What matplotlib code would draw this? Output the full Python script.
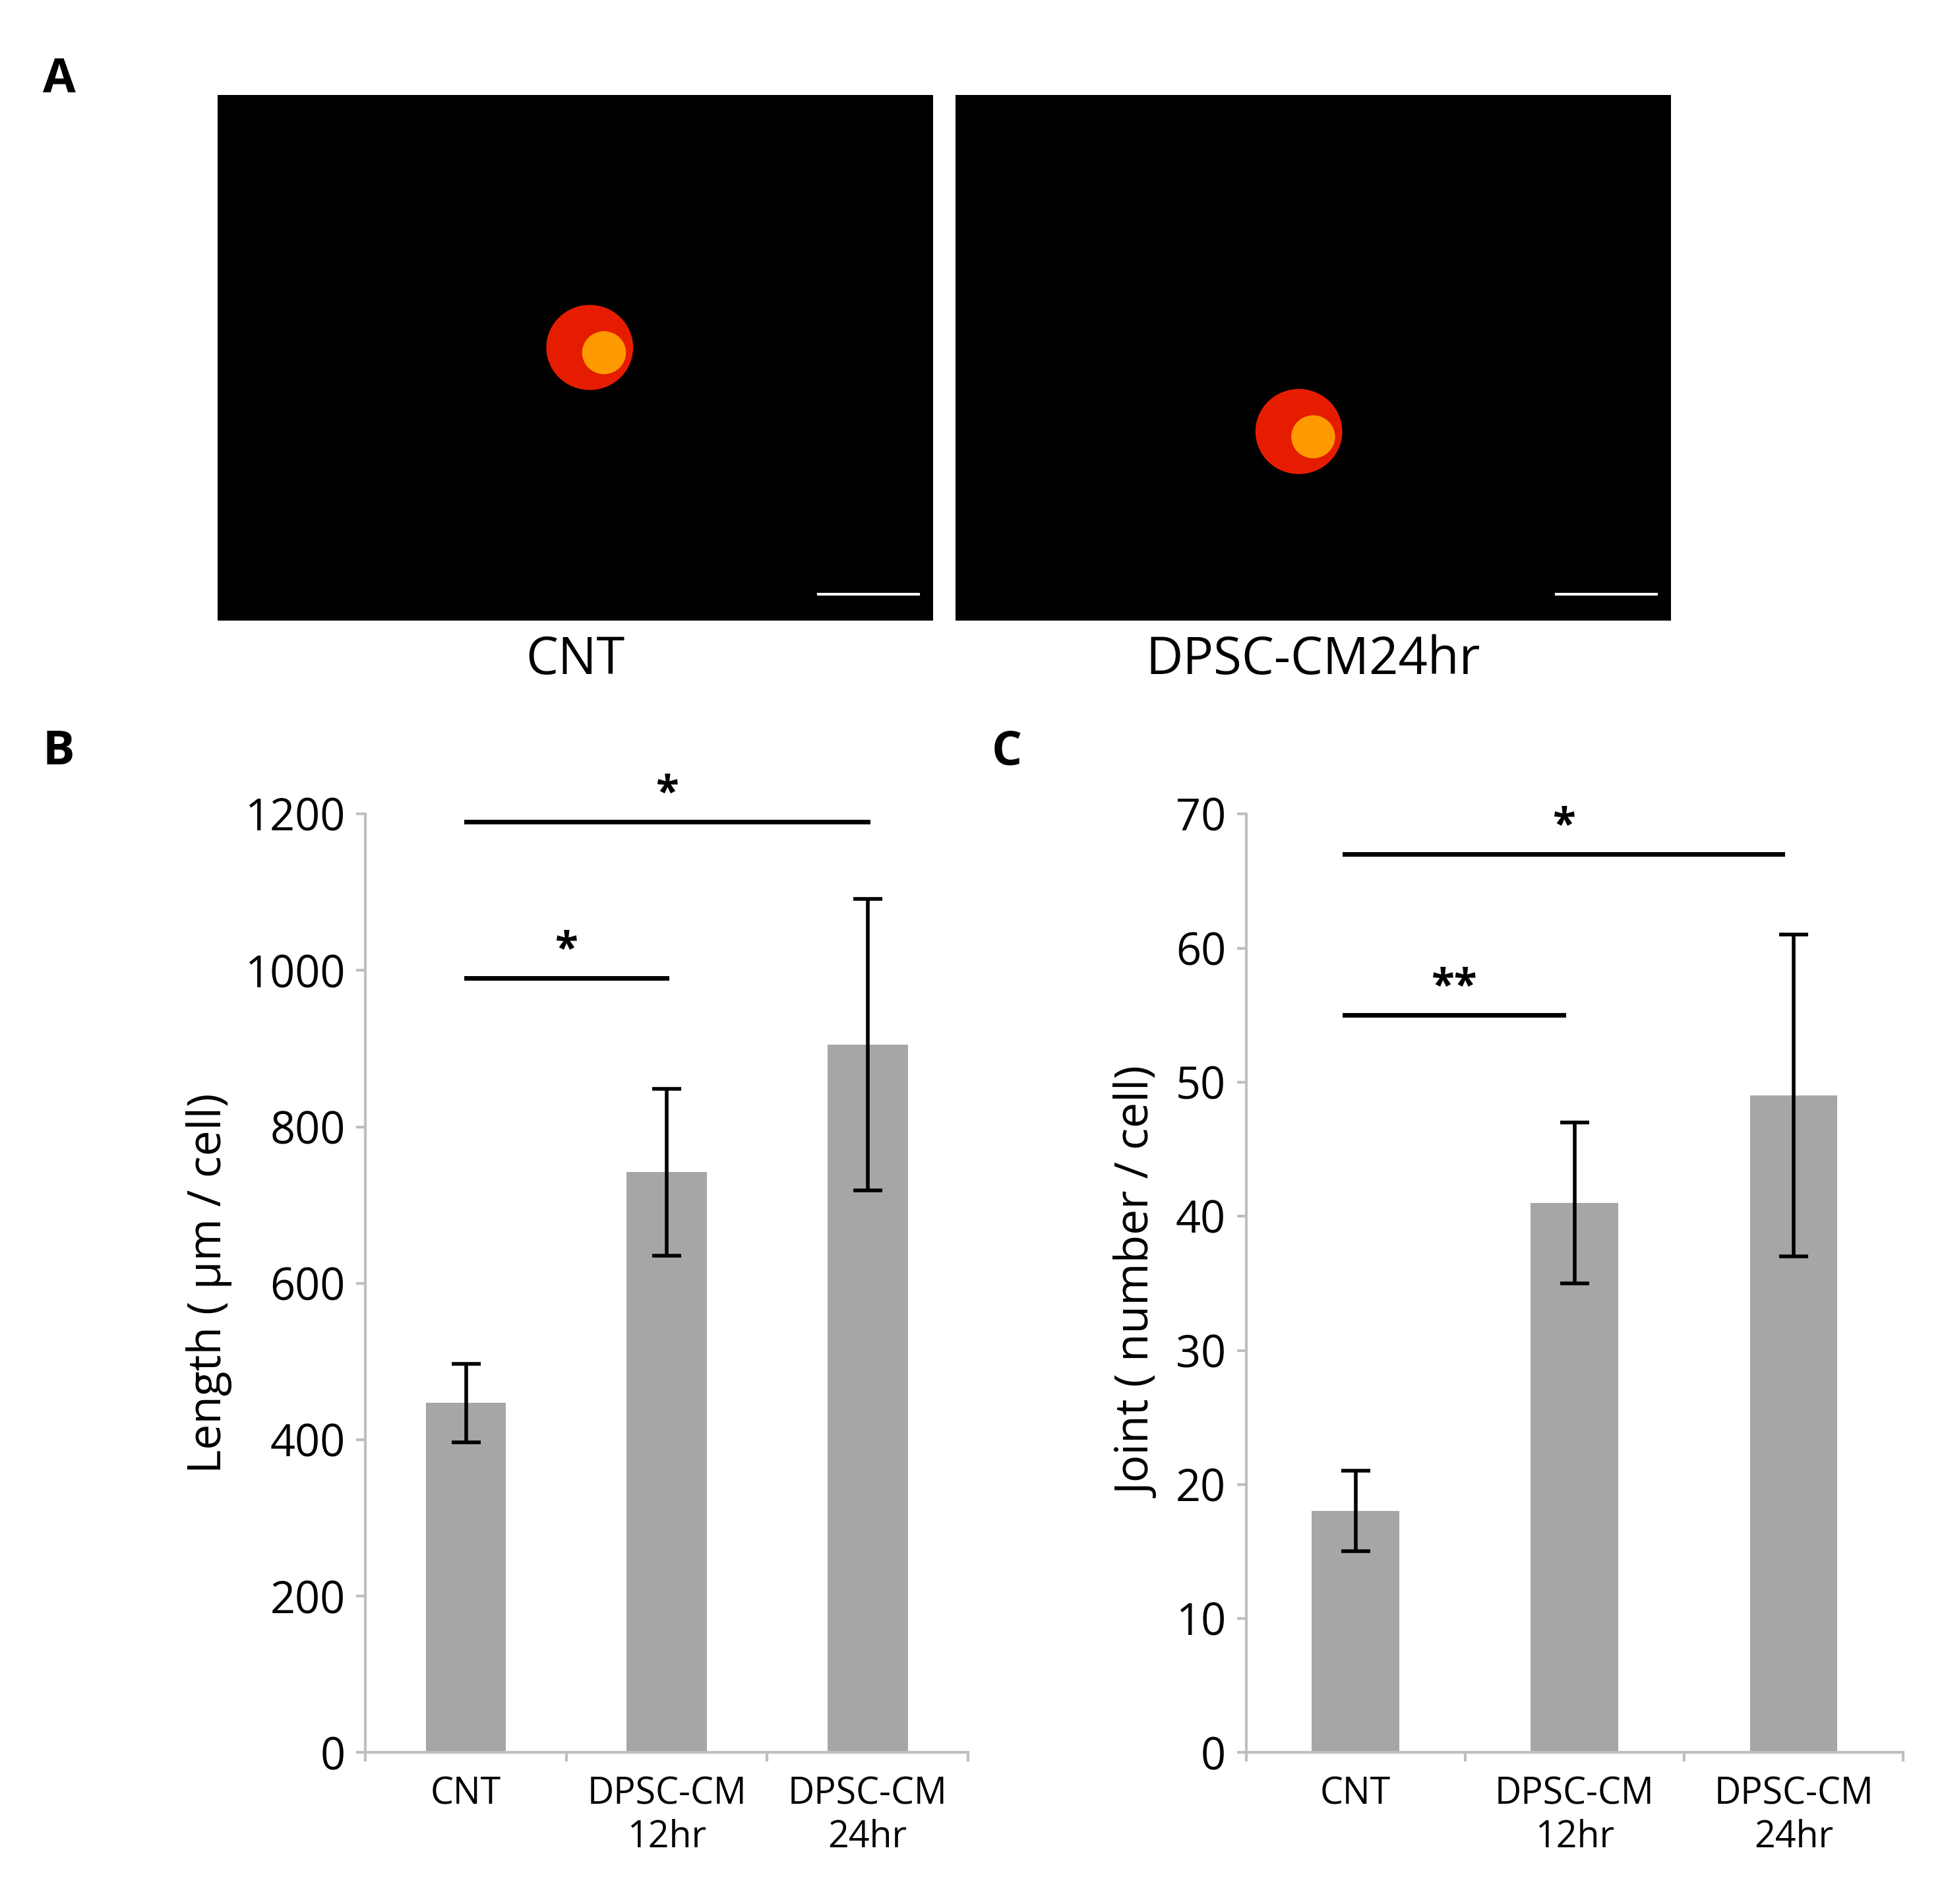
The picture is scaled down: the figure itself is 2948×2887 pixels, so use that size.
import matplotlib
matplotlib.use("Agg")
import matplotlib.pyplot as plt
from matplotlib.patches import Ellipse

categories = ["CNT", "DPSC-CM\n12hr", "DPSC-CM\n24hr"]
length_vals = [447, 742, 905]
length_err = [50, 107, 186]
joint_vals = [18, 41, 49]
joint_err = [3, 6, 12]
image_labels = ["CNT", "DPSC-CM24hr"]

plt.rcParams['font.family'] = ['Open Sans', 'DejaVu Sans']
fig = plt.figure(figsize=(29.48, 28.87), dpi=100)
axc = "#bfbfbf"

# Panel A: image placeholders
for i, (x0, lab) in enumerate(zip([0.112, 0.4915], image_labels)):
    ax = fig.add_axes([x0, 0.674, 0.368, 0.276])
    ax.set_facecolor("black")
    ax.set_xlim(0, 1); ax.set_ylim(0, 1)
    ax.set_xticks([]); ax.set_yticks([])
    for s in ax.spines.values(): s.set_visible(False)
    cx, cy = (0.52, 0.52) if i == 0 else (0.48, 0.36)
    ax.add_patch(Ellipse((cx, cy), 0.12, 0.16, color="#ff2000", alpha=0.9))
    ax.add_patch(Ellipse((cx + 0.02, cy - 0.01), 0.06, 0.08, color="#ff9900"))
    ax.plot([0.84, 0.98], [0.05, 0.05], color="white", lw=3)
    fig.text(x0 + 0.184, 0.653, lab, ha="center", va="center", fontsize=56)
fig.text(0.022, 0.958, "A", fontsize=52, fontweight="bold", va="center")
fig.text(0.022, 0.605, "B", fontsize=52, fontweight="bold", va="center")
fig.text(0.51, 0.605, "C", fontsize=52, fontweight="bold", va="center")

def bar_panel(rect, vals, errs, ymax, step, ylabel, sigs):
    ax = fig.add_axes(rect)
    x = range(len(vals))
    ax.bar(x, vals, width=0.4, color="#a6a6a6")
    ax.errorbar(x, vals, yerr=errs, fmt="none", ecolor="black", elinewidth=4,
                capsize=16, capthick=4)
    ax.set_xlim(-0.5, 2.5)
    ax.set_ylim(0, ymax)
    ax.set_yticks(range(0, ymax + 1, step))
    ax.set_xticks([-0.5, 0.5, 1.5, 2.5], minor=False)
    ax.set_xticklabels([])
    ax.set_xticks(list(x), minor=True)
    ax.set_xticklabels(categories, minor=True, fontsize=40)
    ax.tick_params(axis="x", which="minor", length=0, pad=25)
    ax.tick_params(axis="x", which="major", length=10, width=3, color=axc)
    ax.tick_params(axis="y", labelsize=48, length=10, width=3, color=axc, pad=12)
    for s in ["top", "right"]: ax.spines[s].set_visible(False)
    for s in ["left", "bottom"]:
        ax.spines[s].set_color(axc); ax.spines[s].set_linewidth(3)
    ax.set_ylabel(ylabel, fontsize=50, labelpad=14)
    for (a, b, y, t) in sigs:
        ax.plot([a, b], [y, y], color="black", lw=5, clip_on=False)
        ax.text((a + b) / 2, y + ymax * 0.006, t, ha="center", va="bottom",
                fontsize=46, fontweight="bold")
    return ax

bar_panel([0.188, 0.0795, 0.310, 0.493], length_vals, length_err, 1200, 200,
          "Length ( μm / cell)", [(0, 2, 1190, "*"), (0, 1, 990, "*")])
bar_panel([0.641, 0.0795, 0.338, 0.493], joint_vals, joint_err, 70, 10,
          "Joint ( number / cell)", [(-0.05, 1.95, 67, "*"), (-0.05, 0.95, 55, "**")])

fig.savefig("out.png", dpi=100)
